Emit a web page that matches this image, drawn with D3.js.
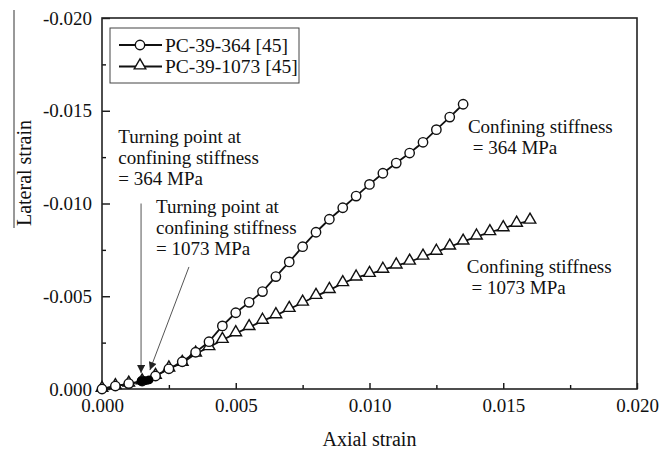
<!DOCTYPE html>
<html>
<head>
<meta charset="utf-8">
<script src="https://cdn.jsdelivr.net/npm/d3@7"></script>
<style>
  body { margin: 0; background: #fff; }
  svg { display: block; }
  text { font-family: "Liberation Serif", "Times New Roman", serif; fill: #111; }
  .axis path { display: none; }
  .axis line { stroke: #111; stroke-width: 1.4; }
  .axis text { font-size: 19px; }
  .ann { font-size: 19px; }
  .arrow { stroke: #555; stroke-width: 1; fill: none; }
</style>
</head>
<body>
<svg width="671" height="449"></svg>
<script>
// axial strain steps (every 0.0005)
var axial364 = [0, 0.0005, 0.001, 0.0015, 0.002, 0.0025, 0.003, 0.0035, 0.004, 0.0045,
  0.005, 0.0055, 0.006, 0.0065, 0.007, 0.0075, 0.008, 0.0085, 0.009, 0.0095,
  0.010, 0.0105, 0.011, 0.0115, 0.012, 0.0125, 0.013, 0.0135];
var lateral364 = [0, -0.00016, -0.00029, -0.00043, -0.0007, -0.00109, -0.00147, -0.00198, -0.00255, -0.0034,
  -0.00411, -0.00467, -0.00525, -0.00606, -0.00685, -0.00767, -0.00845, -0.00915, -0.00977, -0.0104,
  -0.01103, -0.01163, -0.01218, -0.01272, -0.0133, -0.01398, -0.01466, -0.01535];

var axial1073 = [0, 0.0005, 0.001, 0.0015, 0.002, 0.0025, 0.003, 0.0035, 0.004, 0.0045,
  0.005, 0.0055, 0.006, 0.0065, 0.007, 0.0075, 0.008, 0.0085, 0.009, 0.0095,
  0.010, 0.0105, 0.011, 0.0115, 0.012, 0.0125, 0.013, 0.0135, 0.014, 0.0145,
  0.015, 0.0155, 0.016];
var lateral1073 = [0, -0.00015, -0.00028, -0.0004, -0.0007, -0.0011, -0.0014, -0.0019, -0.00225, -0.00264,
  -0.003, -0.00333, -0.00367, -0.00397, -0.00431, -0.00465, -0.00501, -0.00533, -0.0057, -0.006,
  -0.0062, -0.00642, -0.00665, -0.00686, -0.00713, -0.00739, -0.00767, -0.00794, -0.00821, -0.00845,
  -0.00866, -0.0089, -0.00907];

// turning points (filled markers)
var turnAxial = [0.00146, 0.00162, 0.00176];
var turnLateral = [-0.00042, -0.00045, -0.00049];

var xTicks = [0, 0.005, 0.010, 0.015, 0.020];
var yTicks = [0, -0.005, -0.010, -0.015, -0.020];
var xMinor = [0.0025, 0.0075, 0.0125, 0.0175];
var yMinor = [-0.0025, -0.0075, -0.0125, -0.0175];

var seriesNames = ['PC-39-364 [45]', 'PC-39-1073 [45]'];

var svg = d3.select('svg');
var plotL = 102, plotR = 637, plotT = 18, plotB = 389;

var x = d3.scaleLinear().domain([0, 0.020]).range([plotL, plotR]);
var y = d3.scaleLinear().domain([0, -0.020]).range([plotB, plotT]);

var fmt = function(d) { return d3.format('.3f')(Math.abs(d) < 1e-12 ? 0 : d).replace('\u2212', '-'); };

// axes: major ticks inward
svg.append('g').attr('class', 'axis')
  .attr('transform', 'translate(0,' + plotB + ')')
  .call(d3.axisBottom(x).tickValues(xTicks).tickSizeInner(-6).tickSizeOuter(0).tickPadding(10).tickFormat(fmt));
svg.append('g').attr('class', 'axis')
  .attr('transform', 'translate(0,' + plotB + ')')
  .call(d3.axisBottom(x).tickValues(xMinor).tickSizeInner(-4).tickSizeOuter(0).tickFormat(''));
svg.append('g').attr('class', 'axis')
  .attr('transform', 'translate(' + plotL + ',0)')
  .call(d3.axisLeft(y).tickValues(yTicks).tickSizeInner(-8).tickSizeOuter(0).tickPadding(10).tickFormat(fmt));
svg.append('g').attr('class', 'axis')
  .attr('transform', 'translate(' + plotL + ',0)')
  .call(d3.axisLeft(y).tickValues(yMinor).tickSizeInner(-4).tickSizeOuter(0).tickFormat(''));

svg.selectAll('.axis text').attr('fill', '#111');

// frame
svg.append('rect')
  .attr('x', plotL).attr('y', plotT)
  .attr('width', plotR - plotL).attr('height', plotB - plotT)
  .attr('fill', 'none').attr('stroke', '#222').attr('stroke-width', 1.6);

// axis titles
svg.append('text')
  .attr('x', (plotL + plotR) / 2).attr('y', 446)
  .attr('text-anchor', 'middle').style('font-size', '20px')
  .text('Axial strain');
svg.append('text')
  .attr('transform', 'translate(31,173) rotate(-90)')
  .attr('text-anchor', 'middle').style('font-size', '20px')
  .text('Lateral strain');
svg.append('line')
  .attr('x1', 14).attr('x2', 14).attr('y1', 10).attr('y2', 228)
  .attr('stroke', '#333').attr('stroke-width', 1);

var line = d3.line()
  .x(function(d) { return x(d[0]); })
  .y(function(d) { return y(d[1]); });

var data364 = d3.zip(axial364, lateral364);
var data1073 = d3.zip(axial1073, lateral1073);

var tri = d3.symbol().type(d3.symbolTriangle).size(58);

// triangle series
svg.append('path').datum(data1073)
  .attr('d', line).attr('fill', 'none').attr('stroke', '#111').attr('stroke-width', 1.8);
svg.selectAll('path.tri').data(data1073).enter()
  .append('path').classed('tri', true)
  .attr('d', tri)
  .attr('transform', function(d) { return 'translate(' + x(d[0]) + ',' + (y(d[1]) - 1) + ')'; })
  .attr('fill', '#fff').attr('stroke', '#111').attr('stroke-width', 1.4);

// circle series
svg.append('path').datum(data364)
  .attr('d', line).attr('fill', 'none').attr('stroke', '#111').attr('stroke-width', 1.8);
svg.selectAll('circle.poi').data(data364).enter()
  .append('circle').classed('poi', true)
  .attr('cx', function(d) { return x(d[0]); })
  .attr('cy', function(d) { return y(d[1]); })
  .attr('r', 4.7)
  .attr('fill', '#fff').attr('stroke', '#111').attr('stroke-width', 1.4);

// turning points
svg.selectAll('circle.turn').data(d3.zip(turnAxial, turnLateral)).enter()
  .append('circle').classed('turn', true)
  .attr('cx', function(d) { return x(d[0]); })
  .attr('cy', function(d) { return y(d[1]); })
  .attr('r', 4.4)
  .attr('fill', '#000');

// arrows
var defs = svg.append('defs');
defs.append('marker')
  .attr('id', 'head').attr('viewBox', '0 0 10 10')
  .attr('refX', 10).attr('refY', 5)
  .attr('markerWidth', 10).attr('markerHeight', 8)
  .attr('markerUnits', 'userSpaceOnUse')
  .attr('orient', 'auto')
  .append('path').attr('d', 'M0,0L10,5L0,10Z').attr('fill', '#222');

var arrowFrom = [[0.00146, -0.0100], [0.00325, -0.00658]];
var arrowTo = [[0.00146, -0.00086], [0.00179, -0.00102]];

svg.selectAll('line.arrow').data(d3.zip(arrowFrom, arrowTo)).enter()
  .append('line').attr('class', 'arrow')
  .attr('x1', function(d) { return x(d[0][0]); })
  .attr('y1', function(d) { return y(d[0][1]); })
  .attr('x2', function(d) { return x(d[1][0]); })
  .attr('y2', function(d) { return y(d[1][1]); })
  .attr('marker-end', 'url(#head)');

// annotations
var notes = [
  { at: [0.00061, -0.01325], lines: ['Turning point at', 'confining stiffness', '= 364 MPa'] },
  { at: [0.00202, -0.00949], lines: ['Turning point at', 'confining stiffness', '= 1073 MPa'] },
  { at: [0.01368, -0.0138], lines: ['Confining stiffness', ' = 364 MPa'] },
  { at: [0.01364, -0.00625], lines: ['Confining stiffness', ' = 1073 MPa'] }
];
notes.forEach(function(n) {
  var t = svg.append('text').attr('class', 'ann')
    .attr('x', x(n.at[0])).attr('y', y(n.at[1]))
    .attr('xml:space', 'preserve');
  n.lines.forEach(function(s, i) {
    t.append('tspan').attr('x', x(n.at[0])).attr('dy', i === 0 ? 0 : 21).text(s);
  });
});

// legend
var lg = svg.append('g').attr('transform', 'translate(110,28)');
lg.append('rect').attr('width', 189).attr('height', 55)
  .attr('fill', '#fff').attr('stroke', '#444').attr('stroke-width', 1);
seriesNames.forEach(function(name, i) {
  var ry = 17 + i * 21.5;
  lg.append('line').attr('x1', 9).attr('x2', 52).attr('y1', ry).attr('y2', ry)
    .attr('stroke', '#111').attr('stroke-width', 1.8);
  if (i === 0) {
    lg.append('circle').attr('cx', 30).attr('cy', ry).attr('r', 4.7)
      .attr('fill', '#fff').attr('stroke', '#111').attr('stroke-width', 1.4);
  } else {
    lg.append('path').attr('d', tri).attr('transform', 'translate(30,' + (ry - 1) + ')')
      .attr('fill', '#fff').attr('stroke', '#111').attr('stroke-width', 1.4);
  }
  lg.append('text').attr('x', 55).attr('y', ry + 6.5).style('font-size', '19.5px').text(name);
});
</script>
</body>
</html>
